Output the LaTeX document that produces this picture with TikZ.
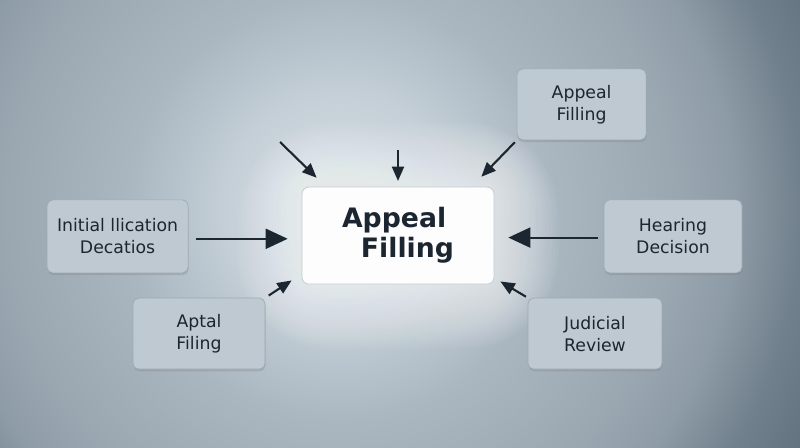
\documentclass[tikz,border=0pt]{standalone}
\usepackage{fontspec}
\setmainfont{DejaVu Sans}
\usetikzlibrary{arrows.meta, positioning, calc, shadows, backgrounds}

\definecolor{bgin}{HTML}{D6DFE5}
\definecolor{bgmid}{HTML}{C4CFD7}
\definecolor{bgsoft}{HTML}{AAB7C1}
\definecolor{bgrim}{HTML}{9AA7B1}
\definecolor{bgedge}{HTML}{8E9CA7}
\definecolor{bgdark}{HTML}{70808C}
\definecolor{bgdeep}{HTML}{5E6E7A}
\definecolor{bgout}{HTML}{566572}
\definecolor{boxfill}{HTML}{BFC9D1}
\definecolor{boxline}{HTML}{9DA9B3}
\definecolor{inkdark}{HTML}{1C2631}

\pgfdeclareradialshading{bgshade}{\pgfpoint{0bp}{0bp}}{%
  color(0bp)=(bgin); color(6bp)=(bgmid); color(11bp)=(bgsoft);
  color(17.5bp)=(bgrim); color(20.5bp)=(bgedge); color(24bp)=(bgdark);
  color(28bp)=(bgdeep); color(50bp)=(bgout)}

\tikzset{
  sidebox/.style={draw=boxline, line width=0.5pt, fill=boxfill, rounded corners=4pt,
    text=inkdark, align=center, font=\fontsize{12.3}{15.6}\selectfont,
    drop shadow={opacity=0.3, shadow xshift=0.4pt, shadow yshift=-1.6pt}},
  mainbox/.style={draw=boxline!60, line width=0.5pt, fill=white!97!boxfill, rounded corners=5pt,
    text=inkdark, align=left, font=\fontsize{19}{21.5}\selectfont\bfseries,
    minimum width=4.8cm, minimum height=2.425cm},
  bigarrow/.style={draw=inkdark, line width=1.5pt, -{Triangle[length=0.55cm, width=0.5cm]}},
  smallarrow/.style={draw=inkdark, line width=1.5pt, -{Triangle[length=0.36cm, width=0.3cm]}}
}

\begin{document}
\begin{tikzpicture}
\useasboundingbox (0,0) rectangle (20,11.2);

% boxes
\node[mainbox] (main) at (9.95,5.31) {Appeal\\\hspace*{13.5pt}Filling};
\node[sidebox, minimum width=3.225cm, minimum height=1.775cm] (upper) at (14.54,8.59) {Appeal\\Filling};
\node[sidebox, minimum width=3.525cm, minimum height=1.825cm] (initial) at (2.94,5.29) {Initial llication\\Decatios};
\node[sidebox, minimum width=3.45cm, minimum height=1.825cm] (hearing) at (16.825,5.29) {Hearing\\Decision};
\node[sidebox, minimum width=3.3cm, minimum height=1.775cm] (aptal) at (4.975,2.86) {Aptal\\Filing};
\node[sidebox, minimum width=3.35cm, minimum height=1.775cm] (judicial) at (14.875,2.86) {Judicial\\Review};

% free ends of the short arrows
\coordinate (fromleft) at (7.0,7.65);
\coordinate (fromtop) at (9.95,7.45);
\coordinate (tipleft) at ($(main.north west)+(0.375,0.225)$);
\coordinate (tiptop) at (main.north |- 0,6.675);
\coordinate (tipright) at ($(main.north east)+(-0.325,0.25)$);
\coordinate (tiplow) at ($(main.south west)+(-0.25,0.1)$);
\coordinate (tiplowr) at ($(main.south east)+(0.15,0.075)$);

% arrows
\draw[bigarrow, shorten <=0.2cm, shorten >=0.35cm] ($(initial.east)+(0,-0.06)$) -- ($(initial.east -| main.west)+(0,-0.06)$);
\draw[bigarrow, shorten <=0.15cm, shorten >=0.35cm] ($(hearing.west)+(0,-0.03)$) -- ($(hearing.west -| main.east)+(0,-0.03)$);
\draw[smallarrow] (fromleft) -- (tipleft);
\draw[smallarrow] (fromtop) -- (tiptop);
\draw[smallarrow, shorten <=0.07cm] (upper.south west) -- (tipright);
\draw[smallarrow, shorten <=0.1cm] (aptal.north east) -- (tiplow);
\draw[smallarrow, shorten <=0.05cm] (judicial.north west) -- (tiplowr);

% backdrop and glow
\begin{pgfonlayer}{background}
  \fill[bgout] (0,0) rectangle (20,11.2);
  \begin{scope}
    \clip (0,0) rectangle (20,11.2);
    \shade[shading=bgshade] (-3.5,-6) rectangle (20.5,18);
  \end{scope}
  \foreach \g in {1,...,20}
    \fill[white, opacity=0.045, rounded corners=6pt+\g*3pt]
      ($(main.south west)+(-\g*0.08,-\g*0.08)$) rectangle ($(main.north east)+(\g*0.08,\g*0.08)$);
\end{pgfonlayer}
\end{tikzpicture}
\end{document}
